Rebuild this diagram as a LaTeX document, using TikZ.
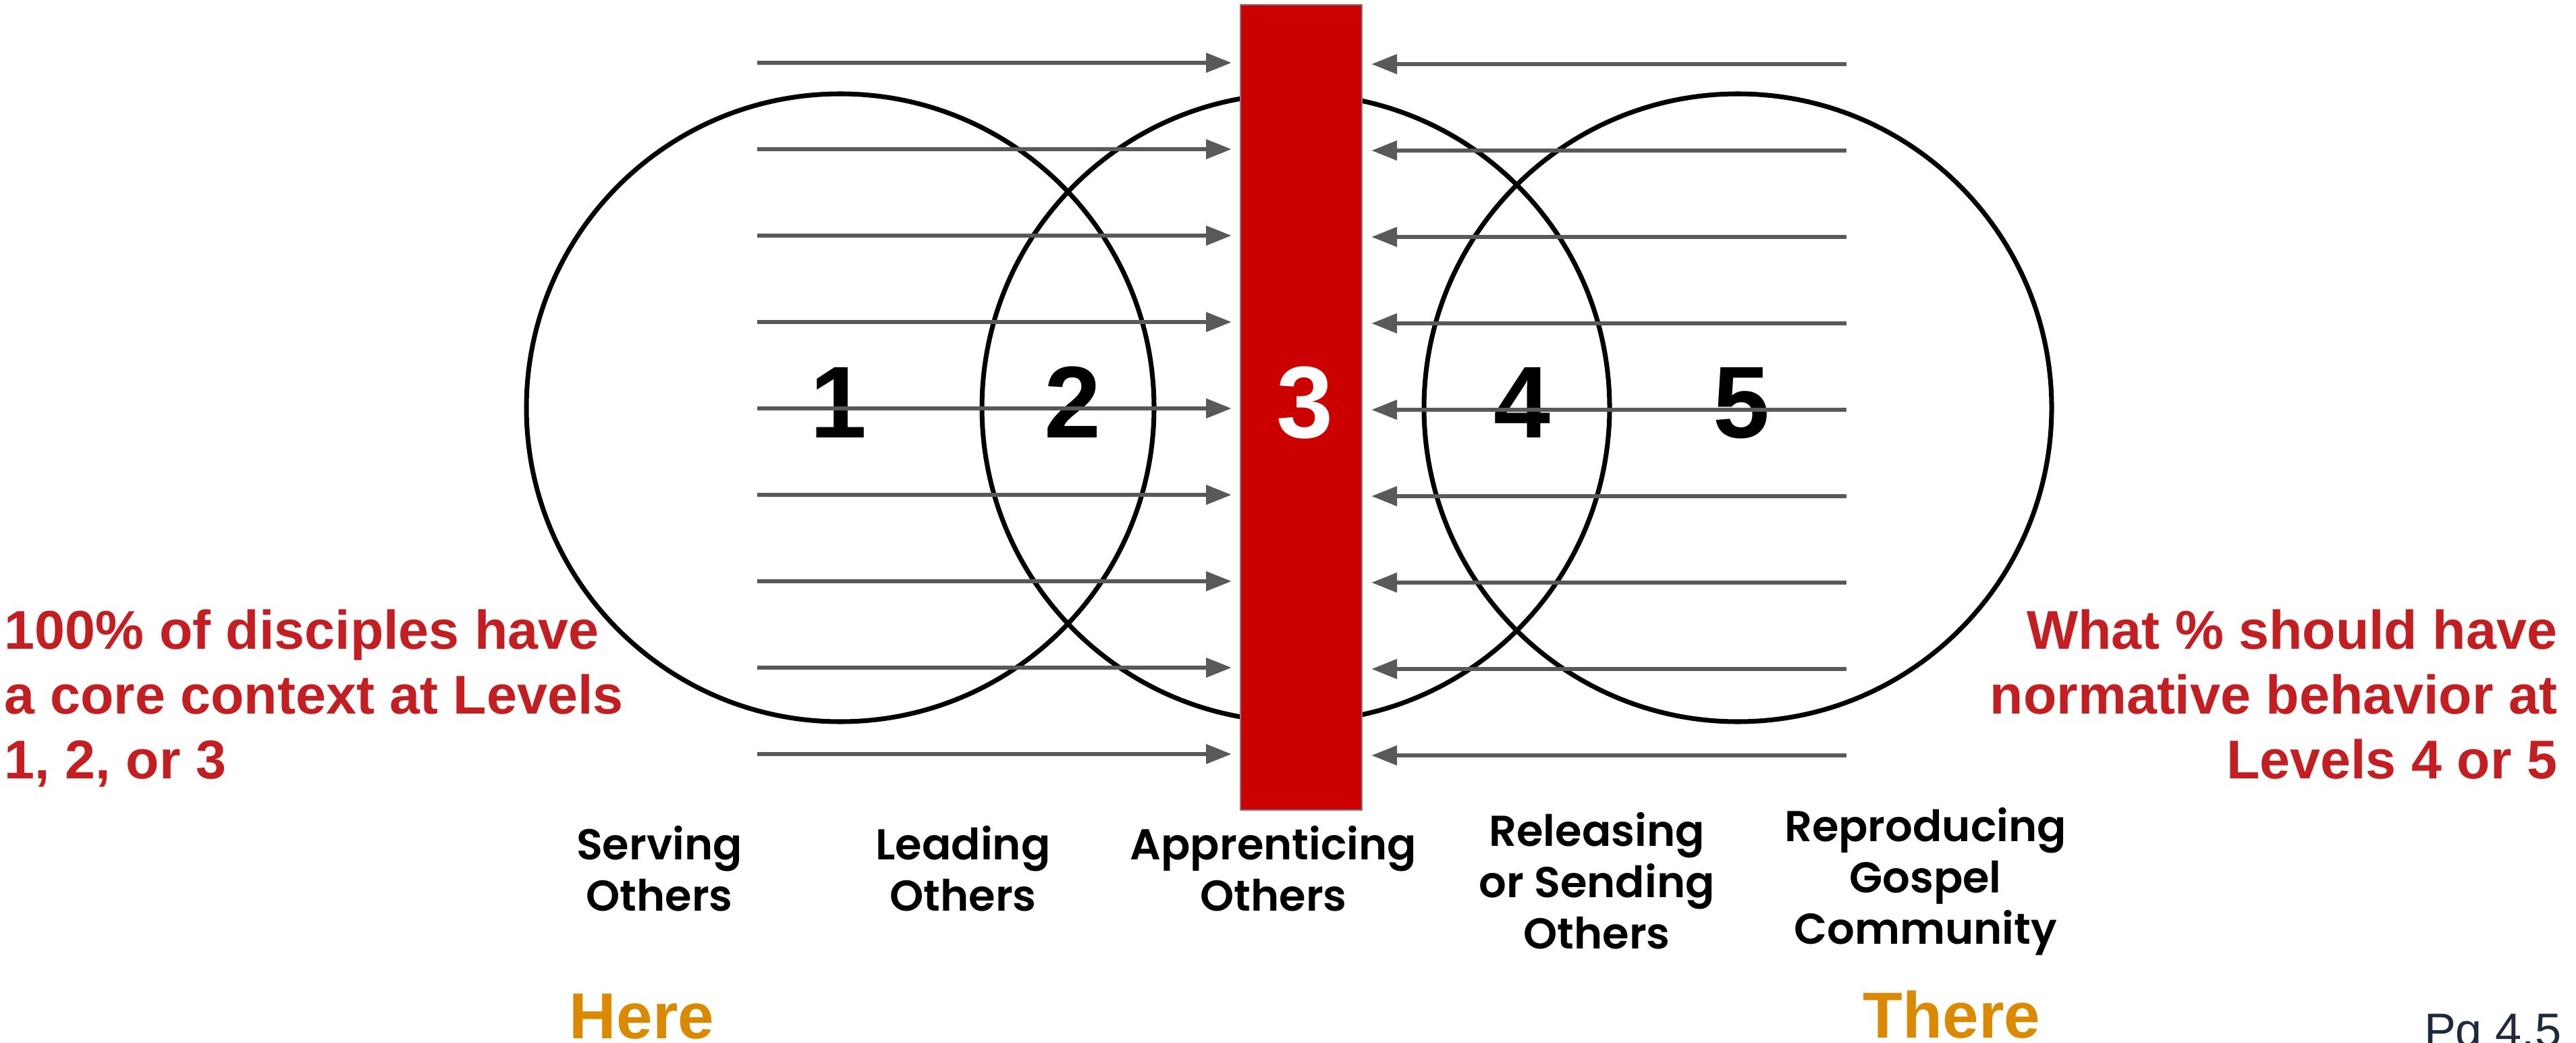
\documentclass[tikz,border=0pt]{standalone}
\usepackage{fontspec}
\usepackage{tikz}
\usetikzlibrary{arrows.meta,positioning}
\newfontfamily\arialfont{Liberation Sans}
\newfontfamily\labelfont{Poppins SemiBold}
\definecolor{levelred}{RGB}{204,0,0}
\definecolor{notered}{RGB}{195,30,33}
\definecolor{arrowgray}{RGB}{89,89,89}
\definecolor{placeorange}{RGB}{218,137,0}
\definecolor{pagenavy}{RGB}{31,41,64}

\begin{document}
\begin{tikzpicture}[% styles for the whole picture
		every node/.style={inner sep=0pt, outer sep=0pt},
		ring/.style={circle, draw=black, line width=2pt, minimum size=9.3cm},
		levelbar/.style={rectangle, fill=levelred, draw=gray, line width=0.4pt,
			minimum width=1.8cm, minimum height=11.93cm},
		digit/.style={anchor=base, font=\arialfont\bfseries\fontsize{43}{43}\selectfont},
		push/.style={draw=arrowgray, line width=1.85pt,
			-{Triangle[length=0.38cm,width=0.28cm]}},
		levellabel/.style={anchor=base, align=center,
			font=\labelfont\fontsize{18.2}{21.6}\selectfont},
		note/.style={text=notered, font=\arialfont\bfseries\fontsize{23}{27.3}\selectfont},
		place/.style={anchor=base, text=placeorange,
			font=\arialfont\bfseries\fontsize{27.4}{30}\selectfont}
	]
	\useasboundingbox (0,0) rectangle (38.17,-15.45);
	% the three levels circles
	\node[ring] (c1) at (12.45,-6.04) {};
	\node[ring] (c2) at (19.20,-6.04) {};
	\node[ring] (c3) at (25.75,-6.04) {};
	% level numbers
	\node[digit] (n1) at (12.43,-6.48) {1};
	\node[digit] (n2) at (15.90,-6.48) {2};
	\node[digit] (n4) at (22.55,-6.48) {4};
	\node[digit] (n5) at (25.80,-6.48) {5};
	% the red bar at level 3
	\node[levelbar] (bar) at (19.28,-6.035) {};
	\node[digit, text=white] (n3) at (19.33,-6.48) {3};
	% arrows pushing towards the bar
	\foreach \k in {0,...,8}{
		\coordinate (in\k) at (11.22,{-0.93-1.28*\k});
		\coordinate (out\k) at (27.36,{-0.95-1.28*\k});
		\draw[push, shorten >=0.13cm] (in\k) -- (in\k -| bar.west);
		\draw[push, shorten >=0.14cm] (out\k) -- (out\k -| bar.east);
	}
	% names of the levels (placed at the baseline of the last line)
	\node[levellabel] (serving) at (9.77,-13.49) {Serving\\Others};
	\node[levellabel] (leading) at (14.27,-13.49) {Leading\\Others};
	\node[levellabel] (apprenticing) at (18.87,-13.49) {Apprenticing\\Others};
	\node[levellabel] (releasing) at (23.66,-14.05) {Releasing\\or Sending\\Others};
	\node[levellabel] (reproducing) at (28.53,-13.98) {Reproducing\\Gospel\\Community};
	% side notes
	\node[note, anchor=base west, align=left] (herenote) at (0.07,-11.53)
		{100\% of disciples have\\a core context at Levels\\1, 2, or 3};
	\node[note, anchor=base east, align=right] (therenote) at (37.89,-11.53)
		{What \% should have\\normative behavior at\\Levels 4 or 5};
	% here and there
	\node[place] (here) at (9.51,-15.38) {Here};
	\node[place] (there) at (28.92,-15.37) {There};
	\node[anchor=base west, text=pagenavy, font=\arialfont\fontsize{20}{22}\selectfont]
		(page) at (35.92,-15.50) {Pg 4.5};
\end{tikzpicture}
\end{document}
